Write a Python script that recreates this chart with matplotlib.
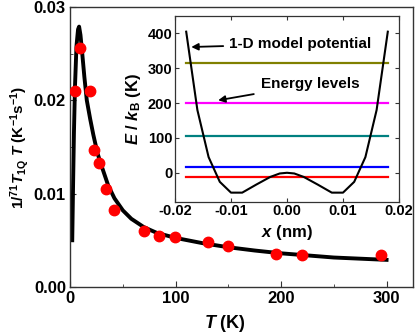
import numpy as np
import matplotlib
matplotlib.use("Agg")
import matplotlib.pyplot as plt
from matplotlib.ticker import MultipleLocator, FormatStrFormatter

plt.rcParams['font.family'] = 'Liberation Sans'
plt.rcParams['font.weight'] = 'bold'
plt.rcParams['axes.labelweight'] = 'bold'
plt.rcParams['mathtext.fontset'] = 'custom'
plt.rcParams['mathtext.rm'] = 'Liberation Sans:bold'
plt.rcParams['mathtext.it'] = 'Liberation Sans:bold:italic'
plt.rcParams['mathtext.bf'] = 'Liberation Sans:bold'
plt.rcParams['mathtext.default'] = 'it'

# measured 1/T1T data (red dots)
T_data = [4.7, 9.4, 18.9, 23, 27, 34, 41.8, 70.2, 84.4, 99.2, 130.6, 150, 195.2, 220.3, 294.3]
rate_data = [0.0210, 0.0256, 0.0210, 0.0147, 0.0133, 0.0105, 0.0082, 0.00595, 0.00549,
             0.00535, 0.00477, 0.00442, 0.00353, 0.00338, 0.00338]

# model fit (black line)
T_fit = [2.0, 2.8, 3.6, 4.6, 6.0, 7.5, 8.5, 9.8, 11.5, 13.5, 15.8, 19, 22, 26, 30, 36, 42,
         50, 58, 70, 82, 100, 125, 150, 175, 200, 250, 300]
rate_fit = [0.0050, 0.0110, 0.0165, 0.0215, 0.0258, 0.0276, 0.0279, 0.0270, 0.0250, 0.0225,
            0.0200, 0.0180, 0.0163, 0.0143, 0.0129, 0.0109, 0.0095, 0.0082, 0.0073, 0.0064,
            0.0058, 0.00525, 0.0047, 0.00425, 0.0039, 0.00360, 0.00315, 0.0029]

# inset: 1-D potential and energy levels
x_pot = [-0.018, -0.016, -0.014, -0.012, -0.010, -0.008, -0.0055, -0.003, -0.0013, 0.0,
         0.0013, 0.003, 0.0055, 0.008, 0.010, 0.012, 0.014, 0.016, 0.018]
V_pot = [405, 180, 45, -26, -57, -57, -34, -12, -2, 0,
         -2, -12, -34, -57, -57, -26, 45, 180, 405]
levels = [-13, 18, 105, 200, 314]
level_colors = ['#ff0000', '#0000ff', '#008080', '#ff00ff', '#808000']

fig = plt.figure(figsize=(4.15, 3.34), dpi=100)
ax = fig.add_axes([0.169, 0.141, 0.826, 0.838])

ax.plot(T_fit, rate_fit, color='k', lw=2.8, zorder=2)
ax.plot(T_data, rate_data, 'o', color='#ff0000', ms=7.5, mec='#ff0000', zorder=3)

ax.set_xlim(0, 325)
ax.set_ylim(0, 0.03)
ax.xaxis.set_major_locator(MultipleLocator(100))
ax.xaxis.set_minor_locator(MultipleLocator(50))
ax.yaxis.set_major_locator(MultipleLocator(0.01))
ax.yaxis.set_minor_locator(MultipleLocator(0.005))
ax.yaxis.set_major_formatter(FormatStrFormatter('%.2f'))
ax.tick_params(which='both', direction='in', labelsize=12, color='#333333', pad=3)
ax.tick_params(which='major', length=4)
ax.tick_params(which='minor', length=2.5)
for s in ax.spines.values():
    s.set_color('#333333')
    s.set_linewidth(1.0)
ax.set_xlabel(r'$T$ (K)', fontsize=13, fontweight='bold')
ax.xaxis.set_label_coords(0.452, -0.095)
ax.set_ylabel(r'1/$^{71}T_{\mathrm{1Q}}$ $T$ (K$^{\mathrm{-1}}$s$^{\mathrm{-1}}$)',
              fontsize=11, fontweight='bold', labelpad=2)

# inset
ins = fig.add_axes([175 / 415, 1 - 201.7 / 334, 224 / 415, 185.7 / 334])
ins.plot(x_pot, V_pot, color='k', lw=1.5, zorder=3)
for lv, c in zip(levels, level_colors):
    ins.plot([-0.018, 0.018], [lv, lv], color=c, lw=1.6, zorder=2)
ins.set_xlim(-0.02, 0.02)
ins.set_ylim(-83, 450)
ins.xaxis.set_major_locator(MultipleLocator(0.01))
ins.yaxis.set_major_locator(MultipleLocator(100))
ins.xaxis.set_major_formatter(FormatStrFormatter('%.2f'))
ins.tick_params(which='both', direction='in', top=True, right=True, labelsize=10.5,
                length=3, color='#333333', pad=2)
for s in ins.spines.values():
    s.set_color('#333333')
    s.set_linewidth(0.9)
ins.set_xlabel(r'$x$ (nm)', fontsize=12, fontweight='bold', labelpad=3)
ins.set_ylabel(r'$E$ / $k_{\mathrm{B}}$ (K)', fontsize=12, fontweight='bold', labelpad=3)

for a in (ax, ins):
    for lbl in a.get_xticklabels() + a.get_yticklabels():
        lbl.set_fontweight('bold')

ins.annotate('1-D model potential', xy=(-0.0171, 361), xytext=(-0.0104, 370),
             fontsize=11, fontweight='bold', va='center', ha='left',
             arrowprops=dict(arrowstyle='-|>', color='k', lw=1.3, mutation_scale=10,
                             shrinkA=2, shrinkB=0))
ins.annotate('Energy levels', xy=(-0.0123, 208), xytext=(-0.0047, 254),
             fontsize=11, fontweight='bold', va='center', ha='left',
             arrowprops=dict(arrowstyle='-|>', color='k', lw=1.3, mutation_scale=10,
                             shrinkA=3, shrinkB=0))

fig.savefig('out.png', dpi=100)
